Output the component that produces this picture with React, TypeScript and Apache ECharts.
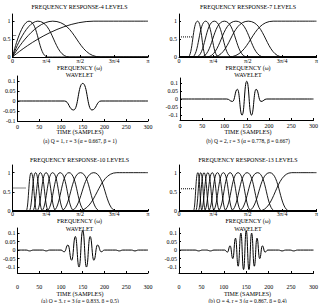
import React, { useEffect, useRef } from "react";
import * as echarts from "echarts";

// Axis ticks
const FREQ_TICKS = [0, 0.25, 0.5, 0.75, 1];
const FREQ_TICK_LABELS = ["0", "π/4", "π/2", "3π/4", "π"];
const RESP_TICKS = [0, 0.5, 1];
const WAVE_TICKS = [-0.1, -0.05, 0, 0.05, 0.1];

// Frequency responses (frequency in units of π): bandpass start / peak / end per level
const aStarts = [0, 0, 0];
const aPeaks = [0.122, 0.187, 0.297];
const aEnds = [0.26, 0.42, 0.65];
const aHigh = [0, 0.6];
const aLow = [0.6, 0.03];

const bStarts = [0.065, 0.095, 0.125, 0.16, 0.2, 0.245];
const bPeaks = [0.135, 0.194, 0.257, 0.33, 0.414, 0.504];
const bEnds = [0.2, 0.29, 0.385, 0.495, 0.62, 0.758];
const bHigh = [0.36, 0.685];
const bLow = [0.56, 0.1];

const cStarts = [0.1, 0.122, 0.147, 0.177, 0.211, 0.25, 0.297, 0.356, 0.426];
const cPeaks = [0.138, 0.17, 0.206, 0.248, 0.296, 0.352, 0.417, 0.502, 0.6];
const cEnds = [0.18, 0.222, 0.268, 0.322, 0.385, 0.458, 0.54, 0.648, 0.768];
const cHigh = [0.48, 0.77];
const cLow = [0.6, 0.1];

const dStarts = [0.104, 0.12, 0.138, 0.159, 0.183, 0.212, 0.244, 0.281, 0.325, 0.375, 0.432, 0.5];
const dPeaks = [0.137, 0.158, 0.182, 0.21, 0.242, 0.28, 0.323, 0.372, 0.43, 0.496, 0.572, 0.66];
const dEnds = [0.168, 0.194, 0.224, 0.258, 0.298, 0.345, 0.397, 0.457, 0.528, 0.608, 0.7, 0.805];
const dHigh = [0.58, 0.82];
const dLow = [0.58, 0.11];

// Wavelets: [sample, amplitude] at extrema
const aWavelet = [[0, 0], [108, 0], [129, -0.045], [150, 0.088], [171, -0.045], [192, 0], [300, 0]];
const bWavelet = [[0, 0], [105, 0], [118, -0.015], [129, 0.06], [139.5, -0.1], [150, 0.11], [160.5, -0.1], [171, 0.06], [182, -0.015], [195, 0], [300, 0]];
const cWavelet = [[0, 0], [20, 0], [28, -0.005], [36, 0], [58, 0], [66, -0.005], [74, 0], [100, 0], [107.5, -0.01], [116, 0.03], [124.5, -0.06], [133, 0.08], [141.5, -0.1], [150, 0.115], [158.5, -0.1], [167, 0.08], [175.5, -0.06], [184, 0.03], [192.5, -0.01], [200, 0], [226, 0], [234, -0.005], [242, 0], [262, 0], [270, -0.005], [278, 0], [300, 0]];
const dWavelet = [[0, 0], [36, 0], [44, -0.005], [52, 0], [62, 0], [70, -0.005], [78, 0], [102, 0], [108, -0.012], [114, 0.025], [120, -0.05], [126, 0.07], [132, -0.095], [138, 0.1], [144, -0.115], [150, 0.115], [156, -0.115], [162, 0.1], [168, -0.095], [174, 0.07], [180, -0.05], [186, 0.025], [192, -0.012], [198, 0], [222, 0], [230, -0.005], [238, 0], [248, 0], [256, -0.005], [264, 0], [300, 0]];

const FONT = "Liberation Serif";

type Panel = {
  levels: number;
  caption: string;
  starts: number[];
  peaks: number[];
  ends: number[];
  high: number[];
  low: number[];
  wavelet: number[][];
  fx: number; fy: number; fw: number; fh: number;
  wx: number; wy: number; ww: number; wh: number;
  wmin: number; wmax: number;
  freqTickMargin: number;
  freqLabelY: number; waveletTitleY: number; timeLabelY: number; captionY: number; titleY: number;
  timeTickMargin: number;
};

const panels: Panel[] = [
  {
    levels: 4, caption: "(a) Q = 1, r = 3 (α = 0.667, β = 1)",
    starts: aStarts, peaks: aPeaks, ends: aEnds, high: aHigh, low: aLow, wavelet: aWavelet,
    fx: 11, fy: 14, fw: 137, fh: 43,
    wx: 12, wy: 76, ww: 136, wh: 45, wmin: -0.1, wmax: 0.125,
    freqTickMargin: 1,
    titleY: 7, freqLabelY: 68, waveletTitleY: 75, timeLabelY: 132, captionY: 141, timeTickMargin: 3,
  },
  {
    levels: 7, caption: "(b) Q = 2, r = 3 (α = 0.778, β = 0.667)",
    starts: bStarts, peaks: bPeaks, ends: bEnds, high: bHigh, low: bLow, wavelet: bWavelet,
    fx: 179, fy: 14, fw: 138, fh: 43,
    wx: 180, wy: 78, ww: 136, wh: 42, wmin: -0.13, wmax: 0.13,
    freqTickMargin: 1,
    titleY: 7, freqLabelY: 68, waveletTitleY: 75, timeLabelY: 132, captionY: 141, timeTickMargin: 3,
  },
  {
    levels: 10, caption: "(a) Q = 3, r = 3 (α = 0.833, β = 0.5)",
    starts: cStarts, peaks: cPeaks, ends: cEnds, high: cHigh, low: cLow, wavelet: cWavelet,
    fx: 11, fy: 165, fw: 137, fh: 46,
    wx: 12, wy: 228, ww: 136, wh: 45, wmin: -0.135, wmax: 0.13,
    freqTickMargin: 0,
    titleY: 160, freqLabelY: 221, waveletTitleY: 228.5, timeLabelY: 294, captionY: 300.5, timeTickMargin: 11,
  },
  {
    levels: 13, caption: "(b) Q = 4, r = 3 (α = 0.867, β = 0.4)",
    starts: dStarts, peaks: dPeaks, ends: dEnds, high: dHigh, low: dLow, wavelet: dWavelet,
    fx: 179, fy: 165, fw: 138, fh: 46,
    wx: 179, wy: 228, ww: 137, wh: 45, wmin: -0.135, wmax: 0.13,
    freqTickMargin: 0,
    titleY: 160, freqLabelY: 221, waveletTitleY: 228.5, timeLabelY: 294, captionY: 300.5, timeTickMargin: 11,
  },
];

const LINE = "#000";
const labelStyle = { color: "#000", fontFamily: FONT, fontSize: 6 };
const axisLine = { show: true, onZero: false, lineStyle: { color: "#000", width: 1 } };

function buildOption() {
  const grid: any[] = [];
  const xAxis: any[] = [];
  const yAxis: any[] = [];
  const series: any[] = [];
  const graphic: any[] = [];

  const text = (x: number, y: number, t: string, size = 6) => ({
    type: "text", x, y,
    style: { text: t, fill: "#000", font: `${size}px "${FONT}"`, textAlign: "center", textVerticalAlign: "middle" },
  });

  panels.forEach((p) => {
    // Frequency-response grid
    const gi = grid.length;
    grid.push({ left: p.fx, top: p.fy, width: p.fw, height: p.fh });
    xAxis.push({
      gridIndex: gi, type: "value", min: 0, max: 1,
      axisLine,
      axisTick: { show: true, inside: true, length: 2, customValues: FREQ_TICKS, lineStyle: { color: "#000" } },
      axisLabel: {
        ...labelStyle, margin: p.freqTickMargin, customValues: FREQ_TICKS,
        formatter: (v: number) => FREQ_TICK_LABELS[FREQ_TICKS.indexOf(v)] ?? "",
      },
      splitLine: { show: false },
    });
    yAxis.push({
      gridIndex: gi, type: "value", min: 0, max: 1.2,
      axisLine,
      axisTick: { show: true, inside: true, length: 2, customValues: RESP_TICKS, lineStyle: { color: "#000" } },
      axisLabel: { ...labelStyle, margin: 2, customValues: RESP_TICKS, formatter: (v: number) => String(v) },
      splitLine: { show: false },
    });
    p.peaks.forEach((pk, i) => {
      const s = p.starts[i];
      const data = s === 0
        ? [[0, 0], [pk, 1], [p.ends[i], 0], [1, 0]]
        : [[0, 0], [s, 0], [pk, 1], [p.ends[i], 0], [1, 0]];
      series.push({
        type: "line", xAxisIndex: gi, yAxisIndex: gi, data, symbol: "none",
        smooth: 0.5, smoothMonotone: "x",
        lineStyle: { color: LINE, width: 0.9 },
      });
    });
    const hs = p.high[0];
    series.push({
      type: "line", xAxisIndex: gi, yAxisIndex: gi, symbol: "none",
      data: hs === 0 ? [[0, 0], [p.high[1], 1], [1, 1]] : [[0, 0], [hs, 0], [p.high[1], 1], [1, 1]],
      smooth: 0.5, smoothMonotone: "x",
      lineStyle: { color: LINE, width: 0.9 },
    });
    series.push({
      type: "line", xAxisIndex: gi, yAxisIndex: gi, symbol: "none",
      data: [[0, p.low[0]], [p.low[1], p.low[0]]],
      lineStyle: { color: LINE, width: 1, type: [1, 1] },
    });

    // Wavelet grid
    const wi = grid.length;
    grid.push({ left: p.wx, top: p.wy, width: p.ww, height: p.wh });
    xAxis.push({
      gridIndex: wi, type: "value", min: 0, max: 300, interval: 50,
      axisLine,
      axisTick: { show: true, inside: true, length: 2, lineStyle: { color: "#000" } },
      axisLabel: { ...labelStyle, margin: p.timeTickMargin, showMinLabel: true, showMaxLabel: true },
      splitLine: { show: false },
    });
    yAxis.push({
      gridIndex: wi, type: "value", min: p.wmin, max: p.wmax,
      axisLine,
      axisTick: { show: true, inside: true, length: 2, customValues: WAVE_TICKS, lineStyle: { color: "#000" } },
      axisLabel: { ...labelStyle, margin: 2, customValues: WAVE_TICKS, formatter: (v: number) => String(v) },
      splitLine: { show: false },
    });
    series.push({
      type: "line", xAxisIndex: wi, yAxisIndex: wi, data: p.wavelet, symbol: "none",
      smooth: 0.5, smoothMonotone: "x",
      lineStyle: { color: LINE, width: 1 },
    });

    const cx = p.fx + p.fw / 2;
    graphic.push(text(cx, p.titleY, `FREQUENCY RESPONSE-${p.levels} LEVELS`));
    graphic.push(text(cx, p.freqLabelY, "FREQUENCY (ω)"));
    graphic.push(text(cx, p.waveletTitleY, "WAVELET"));
    graphic.push(text(p.wx + p.ww / 2, p.timeLabelY, "TIME (SAMPLES)"));
    graphic.push(text(p.wx + p.ww / 2, p.captionY, p.caption, 5.5));
  });

  return {
    animation: false,
    backgroundColor: "#fff",
    grid, xAxis, yAxis, series, graphic,
  };
}

export default function App() {
  const ref = useRef<HTMLDivElement>(null);
  useEffect(() => {
    if (!ref.current) return;
    const chart = echarts.init(ref.current, undefined, { renderer: "svg" });
    chart.setOption(buildOption());
    return () => chart.dispose();
  }, []);
  return (
    <div
      ref={ref}
      style={{ position: "fixed", left: 0, top: 0, width: 321, height: 303, background: "#fff" }}
    />
  );
}
